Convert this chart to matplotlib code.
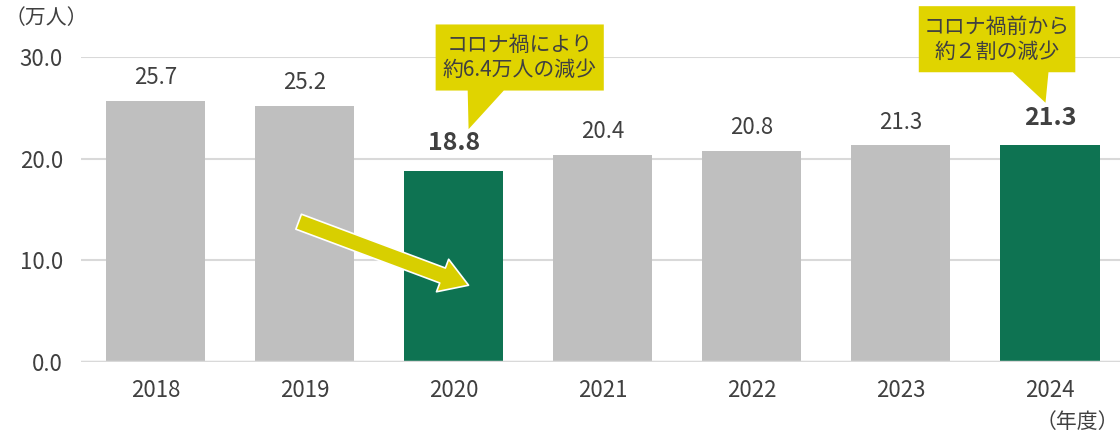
import matplotlib
matplotlib.use("Agg")
import matplotlib.pyplot as plt
from matplotlib.patches import Polygon, FancyArrowPatch

plt.rcParams['font.family'] = ['Noto Sans CJK JP', 'DejaVu Sans']

# data
years = ['2018', '2019', '2020', '2021', '2022', '2023', '2024']
visitors = [25.7, 25.2, 18.8, 20.4, 20.8, 21.3, 21.3]
highlight = [False, False, True, False, False, False, True]
yticks = [0, 10, 20, 30]
ytick_labels = ['0.0', '10.0', '20.0', '30.0']
note_2020 = 'コロナ禍により\n約6.4万人の減少'
note_2024 = 'コロナ禍前から\n約２割の減少'

GRAY = '#bfbfbf'
GREEN = '#0e7352'
YELLOW = '#e0d400'
ARROW = '#d8cf00'
TXT = '#404040'

W, H = 1120, 432
fig = plt.figure(figsize=(W / 100, H / 100), dpi=100)
ax = fig.add_axes([81 / W, (H - 362) / H, (1124.5 - 81) / W, (362 - 57) / H])

x = list(range(len(years)))
colors = [GREEN if h else GRAY for h in highlight]
ax.bar(x, visitors, width=0.665, color=colors, zorder=2)

ax.set_xlim(-0.5, len(years) - 0.5)
ax.set_ylim(0, 30)
ax.set_yticks(yticks)
ax.set_yticklabels(ytick_labels)
ax.set_xticks(x)
ax.set_xticklabels(years)
ax.tick_params(length=0, labelsize=16, labelcolor=TXT)
ax.tick_params(axis='y', pad=13)
ax.tick_params(axis='x', pad=12)
ax.grid(axis='y', color='#d9d9d9', lw=1.5, zorder=0)
for s in ax.spines.values():
    s.set_visible(False)
ax.axhline(0, color='#d9d9d9', lw=2.5, zorder=3)

# value labels
for i, v in enumerate(visitors):
    if highlight[i]:
        ax.annotate(f'{v:.1f}', (i, v), xytext=(0, 20), textcoords='offset points',
                    ha='center', va='center', fontsize=18, fontweight='bold', color=TXT)
    else:
        ax.annotate(f'{v:.1f}', (i, v), xytext=(0, 16.5), textcoords='offset points',
                    ha='center', va='center', fontsize=16, color=TXT)

# callouts
def callout(x0, x1, y0, y1, bx0, bx1, tip, text):
    box = Polygon([(x0, y0), (x1, y0), (x1, y1), (bx1, y1), tip, (bx0, y1), (x0, y1)],
                  closed=True, fc=YELLOW, ec='none', clip_on=False, zorder=5)
    ax.add_patch(box)
    ax.text((x0 + x1) / 2, (y0 + y1) / 2, text, ha='center', va='center',
            fontsize=15, color=TXT, linespacing=1.15, zorder=6)

callout(1.879, 3.007, 33.2, 26.7, 2.094, 2.336, (2.10, 22.9), note_2020)
callout(5.12, 6.17, 35.0, 28.5, 5.75, 5.99, (5.97, 25.5), note_2024)

# arrow
arr = FancyArrowPatch((0.96, 13.8), (2.10, 7.55),
                      arrowstyle='simple,head_length=20,head_width=25,tail_width=11.5',
                      mutation_scale=1, shrinkA=0, shrinkB=0,
                      fc=ARROW, ec='white', lw=1.2, zorder=6)
ax.add_patch(arr)

fig.text(5 / W, 1 - 18 / H, '（万人）', ha='left', va='center', fontsize=15, color=TXT)
fig.text(1119 / W, 1 - 422 / H, '（年度）', ha='right', va='center', fontsize=15, color=TXT)

fig.savefig('out.png', dpi=100)
